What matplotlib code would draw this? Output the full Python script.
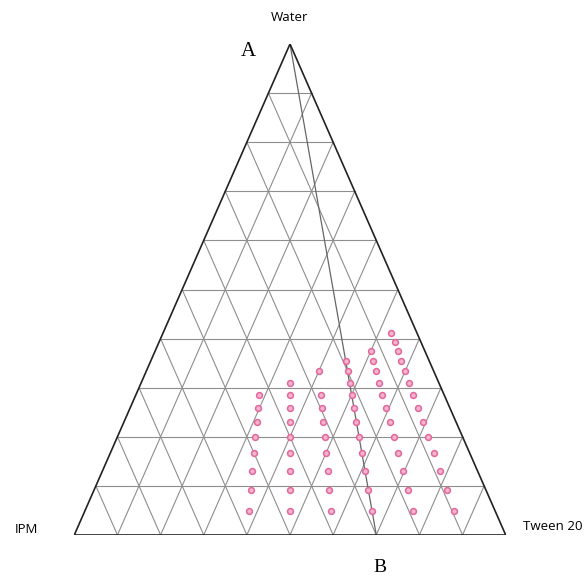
import numpy as np
import matplotlib
matplotlib.use('Agg')
import matplotlib.pyplot as plt

# Corner labels
corner_top = 'Water'
corner_left = 'IPM'
corner_right = 'Tween 20'

# Dilution lines: Tween 20 : IPM ratio (fraction of Tween 20 in the mix)
ratio_40 = 0.4
ratio_50 = 0.5
ratio_60 = 0.6
ratio_70 = 0.7
ratio_80 = 0.8
ratio_90 = 0.9

# Water content (%) of the points
water_40 = [4.8, 9.1, 13.0, 16.7, 20.0, 23.1, 25.9, 28.6]
water_50 = [4.8, 9.1, 13.0, 16.7, 20.0, 23.1, 25.9, 28.6, 31.0]
water_60 = [4.8, 9.1, 13.0, 16.7, 20.0, 23.1, 25.9, 28.6, 33.3]
water_70 = [4.8, 9.1, 13.0, 16.7, 20.0, 23.1, 25.9, 28.6, 31.0, 33.3, 35.5]
water_80 = [4.8, 9.1, 13.0, 16.7, 20.0, 23.1, 25.9, 28.6, 31.0, 33.3, 35.5, 37.5]
water_90 = [4.8, 9.1, 13.0, 16.7, 20.0, 23.1, 25.9, 28.6, 31.0, 33.3, 35.5, 37.5, 39.4, 41.2]

# Line A-B: from pure water (A) to the 70:30 Tween 20 / IPM mix (B)
line_ab_tween = [0.0, 70.0]
line_ab_water = [100.0, 0.0]


def to_xy(tween, water):
    # ternary (fractions) -> cartesian, IPM at left, Tween at right, Water at top
    tween = np.asarray(tween, dtype=float)
    water = np.asarray(water, dtype=float)
    return tween + water / 2.0, water


fig = plt.figure(figsize=(5.85, 5.76), dpi=100)
W, H = 585.0, 576.0
left, right, top, bottom = 74.3, 505.7, 44.0, 535.0
ax = fig.add_axes([left / W, (H - bottom) / H, (right - left) / W, (bottom - top) / H])
ax.set_xlim(0, 1)
ax.set_ylim(0, 1)
ax.axis('off')

# Grid lines every 10%
grid_kw = dict(color='#8e8e8e', lw=0.8, zorder=1)
for k in range(1, 10):
    f = k / 10.0
    # constant water
    x, y = to_xy([0, 1 - f], [f, f])
    ax.plot(x, y, **grid_kw)
    # constant tween
    x, y = to_xy([f, f], [0, 1 - f])
    ax.plot(x, y, **grid_kw)
    # constant IPM
    x, y = to_xy([1 - f, 0], [0, 1 - f])
    ax.plot(x, y, **grid_kw)

# Outer triangle
x, y = to_xy([0, 1, 0, 0], [0, 0, 1, 0])
ax.plot(x, y, color='#222222', lw=1.2, zorder=3, solid_joinstyle='miter')

# Line A-B
x, y = to_xy(np.array(line_ab_tween) / 100, np.array(line_ab_water) / 100)
ax.plot(x, y, color='#666666', lw=0.9, zorder=2)

# Points
series = [(ratio_40, water_40), (ratio_50, water_50), (ratio_60, water_60),
          (ratio_70, water_70), (ratio_80, water_80), (ratio_90, water_90)]
for r, wat in series:
    w = np.array(wat) / 100.0
    t = r * (1 - w)
    x, y = to_xy(t, w)
    ax.plot(x, y, 'o', ms=4.2, mfc='#f6b3cd', mec='#e2679c', mew=1.1,
            linestyle='none', zorder=4)

# Labels
sans = ['Open Sans', 'DejaVu Sans']
ax.text(0.498, 1.053, corner_top, ha='center', va='center', fontsize=9.5, family=sans)
ax.text(-0.112, 0.012, corner_left, ha='center', va='center', fontsize=9.5, family=sans)
ax.text(1.110, 0.017, corner_right, ha='center', va='center', fontsize=9.5, family=sans)
ax.text(0.403, 0.985, 'A', ha='center', va='center', fontsize=15, family='Liberation Serif')
ax.text(0.709, -0.066, 'B', ha='center', va='center', fontsize=14, family='Liberation Serif')

fig.savefig('out.png', dpi=100, facecolor='white')
